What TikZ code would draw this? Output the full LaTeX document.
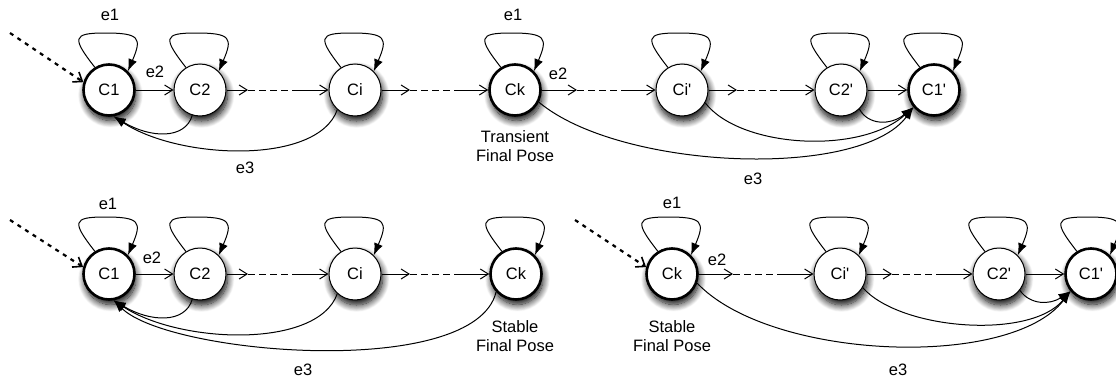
\documentclass[tikz,border=0pt]{standalone}
\usepackage{fontspec}
\newfontfamily\lsans{Liberation Sans}
\usetikzlibrary{arrows.meta,shadows.blur}
\newcommand{\sloop}[1]{\draw[backedge] (#1.122) .. controls ([shift={(-37,-52)}]#1.center) and ([shift={(-37,-57)}]#1.center) .. ([shift={(-4,-57)}]#1.center) .. controls ([shift={(31,-57)}]#1.center) and ([shift={(33,-52)}]#1.center) .. (#1.45);}
\begin{document}
\begin{tikzpicture}[x=1pt,y=-1pt,
  font=\lsans\fontsize{16.5}{18.5}\selectfont,
  state/.style={circle,draw,fill=white,minimum size=52pt,inner sep=0pt,line width=1pt,
    blur shadow={shadow xshift=1.5pt,shadow yshift=-5pt,shadow blur radius=7pt,shadow blur steps=12,shadow opacity=100,shadow blur extra rounding=0pt}},
  bstate/.style={state,line width=2.6pt,minimum size=51pt},
  fwd/.style={-{Straight Barb[length=8pt,width=10pt]},line width=1pt},
  dsh/.style={dash pattern=on 7pt off 4pt,line width=1pt},
  backedge/.style={-{Latex[length=12pt,width=9pt]},line width=1pt},
  init/.style={line width=2.2pt,dash pattern=on 4pt off 5pt,-{Straight Barb[length=8pt,width=12pt,line width=1.6pt]}},
  lbl/.style={inner sep=0pt,align=center}]
\useasboundingbox (0,0) rectangle (1116,380);
% ---- top row
\node[bstate] (T1) at (109,90) {C1};
\node[state] (T2) at (200,90) {C2};
\node[state] (Ti) at (355,90) {Ci};
\node[bstate] (Tk) at (515,90) {Ck};
\node[state] (Tip) at (682,90) {Ci'};
\node[state] (T2p) at (841,90) {C2'};
\node[bstate] (T1p) at (934,90) {C1'};
% ---- bottom left
\node[bstate] (B1) at (109,274) {C1};
\node[state] (B2) at (200,274) {C2};
\node[state] (Bi) at (355,274) {Ci};
\node[bstate] (Bk) at (516,274) {Ck};
% ---- bottom right
\node[bstate] (Rk) at (672,274) {Ck};
\node[state] (Rip) at (840,274) {Ci'};
\node[state] (R2p) at (999,274) {C2'};
\node[bstate] (R1p) at (1091,274) {C1'};
% ---- self loops
\foreach \n in {T1,T2,Ti,Tk,Tip,T2p,T1p,B1,B2,Bi,Bk,Rk,Rip,R2p,R1p}{\sloop{\n}}
% ---- forward edges, top
\coordinate (ta1) at (248,90); \coordinate (ta2) at (293,90);
\coordinate (tb1) at (410,90); \coordinate (tb2) at (455,90);
\coordinate (tc1) at (577,90); \coordinate (tc2) at (623,90);
\coordinate (td1) at (737,90); \coordinate (td2) at (780,90);
\draw[fwd] (T1) -- (T2);
\draw[fwd] (T2) -- (ta1); \draw[dsh] (ta1) -- (ta2); \draw[fwd] (ta2) -- (Ti);
\draw[fwd] (Ti) -- (tb1); \draw[dsh] (tb1) -- (tb2); \draw[fwd] (tb2) -- (Tk);
\draw[fwd] (Tk) -- (tc1); \draw[dsh] (tc1) -- (tc2); \draw[fwd] (tc2) -- (Tip);
\draw[fwd] (Tip) -- (td1); \draw[dsh] (td1) -- (td2); \draw[fwd] (td2) -- (T2p);
\draw[fwd] (T2p) -- (T1p);
% ---- back edges, top
\draw[backedge] (T2.253) .. controls (185,140) and (150,138) .. (T1.280);
\draw[backedge] (Ti.228) .. controls (318,165) and (180,160) .. (T1.280);
\draw[backedge] (Tk.333) .. controls (620,170) and (860,180) .. (T1p.220);
\draw[backedge] (Tip.331) .. controls (740,148) and (860,155) .. (T1p.220);
\draw[backedge] (T2p.314) .. controls (868,125) and (890,126) .. (T1p.220);
% ---- forward edges, bottom left
\coordinate (ba1) at (248,274); \coordinate (ba2) at (293,274);
\coordinate (bb1) at (410,274); \coordinate (bb2) at (455,274);
\draw[fwd] (B1) -- (B2);
\draw[fwd] (B2) -- (ba1); \draw[dsh] (ba1) -- (ba2); \draw[fwd] (ba2) -- (Bi);
\draw[fwd] (Bi) -- (bb1); \draw[dsh] (bb1) -- (bb2); \draw[fwd] (bb2) -- (Bk);
\draw[backedge] (B2.253) .. controls (185,324) and (150,322) .. (B1.280);
\draw[backedge] (Bi.228) .. controls (318,349) and (180,344) .. (B1.280);
\draw[backedge] (Bk.222) .. controls (475,380) and (170,355) .. (B1.280);
% ---- forward edges, bottom right
\coordinate (ra1) at (733,274); \coordinate (ra2) at (778,274);
\coordinate (rb1) at (892,274); \coordinate (rb2) at (940,274);
\draw[fwd] (Rk) -- (ra1); \draw[dsh] (ra1) -- (ra2); \draw[fwd] (ra2) -- (Rip);
\draw[fwd] (Rip) -- (rb1); \draw[dsh] (rb1) -- (rb2); \draw[fwd] (rb2) -- (R2p);
\draw[fwd] (R2p) -- (R1p);
\draw[backedge] (Rk.340) .. controls (770,360) and (1010,370) .. (R1p.220);
\draw[backedge] (Rip.329) .. controls (900,330) and (1030,340) .. (R1p.220);
\draw[backedge] (R2p.322) .. controls (1030,305) and (1050,305) .. (R1p.220);
% ---- initial arrows
\coordinate (s1) at (10,33); \draw[init] (s1) -- (T1.163);
\coordinate (s2) at (10,220); \draw[init] (s2) -- (B1.165);
\coordinate (s3) at (575,220); \draw[init] (s3) -- (Rk.165);
% ---- labels
\node[lbl] (le1a) at (110,15) {e1};
\node[lbl] (le2a) at (155,72) {e2};
\node[lbl] (le3a) at (245,168) {e3};
\node[lbl] (le1b) at (513,15) {e1};
\node[lbl] (le2b) at (558,74) {e2};
\node[lbl] (ltr) at (515,146) {Transient\\Final Pose};
\node[lbl] (le3b) at (753,179) {e3};
\node[lbl] (le1c) at (108,204) {e1};
\node[lbl] (le2c) at (152,258) {e2};
\node[lbl] (le3c) at (303,370) {e3};
\node[lbl] (lst1) at (515,336) {Stable\\Final Pose};
\node[lbl] (le1d) at (672,203) {e1};
\node[lbl] (le2d) at (717,260) {e2};
\node[lbl] (lst2) at (672,336) {Stable\\Final Pose};
\node[lbl] (le3d) at (898,370) {e3};
\end{tikzpicture}
\end{document}
